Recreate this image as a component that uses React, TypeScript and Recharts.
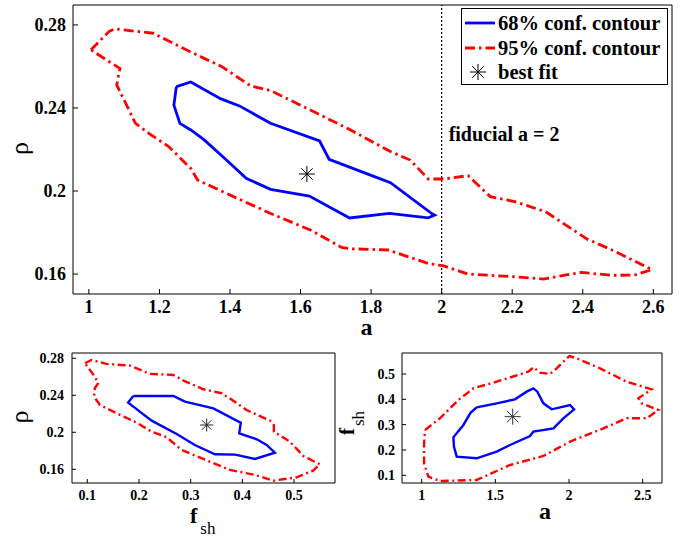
import React from 'react';
import { ComposedChart, Line, Scatter, XAxis, YAxis, ReferenceLine, Legend } from 'recharts';

const FONT = '"Liberation Serif", "Times New Roman", serif';
const BLUE = '#0000ff';
const RED = '#ff0000';

type Pt = [number, number];

// ---------- Main panel: a vs rho ----------
const mainXTicks = [1, 1.2, 1.4, 1.6, 1.8, 2, 2.2, 2.4, 2.6];
const mainYTicks = [0.16, 0.2, 0.24, 0.28];
const mainContour68: Pt[] = [
  [1.248, 0.2503], [1.289, 0.2525], [1.373, 0.2445], [1.427, 0.241], [1.515, 0.2326],
  [1.654, 0.2241], [1.681, 0.2153], [1.83, 0.2056], [1.855, 0.204], [1.974, 0.1889],
  [1.98, 0.1884], [1.962, 0.1871], [1.852, 0.1892], [1.739, 0.187], [1.625, 0.1976],
  [1.515, 0.2008], [1.446, 0.2061], [1.39, 0.2149], [1.327, 0.2246], [1.289, 0.2294],
  [1.258, 0.2326], [1.241, 0.2414], [1.248, 0.2503],
];
const mainContour95: Pt[] = [
  [1.006, 0.268], [1.057, 0.2768], [1.073, 0.2781], [1.182, 0.276], [1.276, 0.268],
  [1.377, 0.2599], [1.459, 0.2506], [1.515, 0.2484], [1.628, 0.239], [1.742, 0.2294],
  [1.855, 0.219], [1.911, 0.2149], [1.962, 0.2058], [2.006, 0.2058], [2.075, 0.2074],
  [2.138, 0.1973], [2.207, 0.1949], [2.295, 0.19], [2.414, 0.1767], [2.483, 0.1716],
  [2.59, 0.1627], [2.596, 0.1622], [2.546, 0.1595], [2.483, 0.1594], [2.395, 0.1608],
  [2.288, 0.1576], [2.207, 0.1587], [2.075, 0.16], [2.006, 0.1639], [1.962, 0.1651],
  [1.848, 0.1716], [1.742, 0.1722], [1.716, 0.1729], [1.628, 0.1812], [1.515, 0.1892],
  [1.427, 0.196], [1.308, 0.2053], [1.289, 0.2109], [1.226, 0.2214], [1.17, 0.2278],
  [1.132, 0.2326], [1.079, 0.2511], [1.088, 0.2591], [1.05, 0.2631], [1.006, 0.268],
];
const mainBestFit: Pt[] = [[1.618, 0.2082]];
const fiducialA = 2;

// ---------- Bottom-left panel: f_sh vs rho ----------
const blXTicks = [0.1, 0.2, 0.3, 0.4, 0.5];
const blYTicks = [0.16, 0.2, 0.24, 0.28];
const blContour68: Pt[] = [
  [0.189, 0.2393], [0.2665, 0.2393], [0.289, 0.2331], [0.344, 0.2259], [0.389, 0.2126],
  [0.397, 0.2104], [0.394, 0.1989], [0.428, 0.1924], [0.447, 0.1863], [0.463, 0.178],
  [0.4245, 0.1712], [0.386, 0.1759], [0.347, 0.1762], [0.308, 0.1863], [0.273, 0.1982],
  [0.2245, 0.2126], [0.179, 0.2321], [0.189, 0.2393],
];
const blContour95: Pt[] = [
  [0.0955, 0.2746], [0.108, 0.2782], [0.137, 0.2739], [0.183, 0.2721], [0.221, 0.2631],
  [0.2665, 0.262], [0.286, 0.2559], [0.3245, 0.2465], [0.36, 0.2422], [0.3825, 0.2342],
  [0.408, 0.2241], [0.4535, 0.2126], [0.461, 0.2079], [0.461, 0.2007], [0.492, 0.1899],
  [0.518, 0.1744], [0.55, 0.1654], [0.537, 0.1586], [0.505, 0.1513], [0.46, 0.1477],
  [0.4245, 0.1539], [0.376, 0.1593], [0.337, 0.1683], [0.2825, 0.1809], [0.2535, 0.1946],
  [0.2245, 0.2007], [0.195, 0.2105], [0.157, 0.2205], [0.1245, 0.2295], [0.113, 0.2386],
  [0.1145, 0.2476], [0.121, 0.253], [0.1145, 0.2602], [0.0955, 0.2746],
];
const blBestFit: Pt[] = [[0.331, 0.2079]];

// ---------- Bottom-right panel: a vs f_sh ----------
const brXTicks = [1, 1.5, 2, 2.5];
const brYTicks = [0.1, 0.2, 0.3, 0.4, 0.5];
const brContour68: Pt[] = [
  [1.373, 0.3684], [1.509, 0.3842], [1.633, 0.4], [1.7125, 0.4303], [1.7575, 0.4434],
  [1.785, 0.4303], [1.826, 0.3842], [1.882, 0.3605], [2.007, 0.3776], [2.034, 0.3605],
  [1.9615, 0.325], [1.894, 0.2855], [1.758, 0.2724], [1.735, 0.2553], [1.5995, 0.2197],
  [1.509, 0.1934], [1.373, 0.1671], [1.2375, 0.1737], [1.219, 0.2132], [1.215, 0.25],
  [1.283, 0.2987], [1.3325, 0.3474], [1.373, 0.3684],
];
const brContour95: Pt[] = [
  [1.023, 0.2789], [1.124, 0.325], [1.249, 0.3974], [1.351, 0.4434], [1.509, 0.4697],
  [1.724, 0.5092], [1.758, 0.5263], [1.803, 0.5053], [1.871, 0.5], [1.916, 0.5224],
  [2.002, 0.5711], [2.052, 0.5618], [2.2105, 0.5224], [2.391, 0.4697], [2.5385, 0.4434],
  [2.561, 0.4395], [2.4705, 0.404], [2.493, 0.3842], [2.606, 0.3579], [2.527, 0.325],
  [2.391, 0.325], [2.233, 0.2855], [2.007, 0.2329], [1.826, 0.1763], [1.5995, 0.1408],
  [1.373, 0.0816], [1.124, 0.0776], [1.045, 0.0947], [1.016, 0.1474], [1.016, 0.2263],
  [1.023, 0.2789],
];
const brBestFit: Pt[] = [[1.6175, 0.3316]];

const legendLabels = ['68% conf. contour', '95% conf. contour', 'best fit'];

const toXY = (pts: Pt[]) => pts.map(([x, y]) => ({ x, y }));

function asterisk(r: number, color: string) {
  return (props: any) => {
    const { cx, cy } = props;
    const d = r * 0.72;
    return (
      <g stroke={color} strokeWidth={1}>
        <line x1={cx - r} y1={cy} x2={cx + r} y2={cy} />
        <line x1={cx} y1={cy - r} x2={cx} y2={cy + r} />
        <line x1={cx - d} y1={cy - d} x2={cx + d} y2={cy + d} />
        <line x1={cx - d} y1={cy + d} x2={cx + d} y2={cy - d} />
      </g>
    );
  };
}

interface PanelProps {
  left: number; top: number; width: number; height: number;
  margin: { top: number; right: number; bottom: number; left: number };
  yAxisWidth: number; xAxisHeight: number;
  xDomain: [number, number]; yDomain: [number, number];
  xTicks: number[]; yTicks: number[];
  tickFont: number; tickLen: number; xTickMargin: number; yTickMargin: number;
  c68: Pt[]; c95: Pt[]; best: Pt[];
  lineW: number; dash: string; starR: number; starColor: string;
  xLabel: (p: any) => any; yLabel: (p: any) => any;
  children?: any;
}

function Panel(p: PanelProps) {
  const tickStyle = { fill: '#000', fontSize: p.tickFont, fontWeight: 'bold', fontFamily: FONT };
  return (
    <div style={{ position: 'absolute', left: p.left, top: p.top, width: p.width, height: p.height }}>
      <ComposedChart width={p.width} height={p.height} margin={p.margin}>
        <XAxis
          xAxisId="b" type="number" dataKey="x" orientation="bottom"
          domain={p.xDomain} allowDataOverflow ticks={p.xTicks} interval={0}
          height={p.xAxisHeight} tickSize={-p.tickLen} tickMargin={p.xTickMargin}
          stroke="#000" tick={tickStyle} tickFormatter={(v: number) => String(v)}
          label={p.xLabel}
        />
        <XAxis
          xAxisId="t" type="number" dataKey="x" orientation="top"
          domain={p.xDomain} allowDataOverflow ticks={p.xTicks} interval={0}
          height={1} tickSize={-p.tickLen} stroke="#000" tick={false}
        />
        <YAxis
          yAxisId="l" type="number" orientation="left"
          domain={p.yDomain} allowDataOverflow ticks={p.yTicks} interval={0}
          width={p.yAxisWidth} tickSize={-p.tickLen} tickMargin={p.yTickMargin}
          stroke="#000" tick={tickStyle} tickFormatter={(v: number) => String(v)}
          label={p.yLabel}
        />
        <YAxis
          yAxisId="r" type="number" orientation="right"
          domain={p.yDomain} allowDataOverflow ticks={p.yTicks} interval={0}
          width={1} tickSize={-p.tickLen} stroke="#000" tick={false}
        />
        {p.children}
        <Line
          xAxisId="b" yAxisId="l" data={toXY(p.c95)} dataKey="y" type="linear"
          stroke={RED} strokeWidth={p.lineW} strokeDasharray={p.dash}
          dot={false} activeDot={false} isAnimationActive={false}
        />
        <Line
          xAxisId="b" yAxisId="l" data={toXY(p.c68)} dataKey="y" type="linear"
          stroke={BLUE} strokeWidth={p.lineW}
          dot={false} activeDot={false} isAnimationActive={false}
        />
        <Scatter
          xAxisId="b" yAxisId="l" data={toXY(p.best)} dataKey="y"
          shape={asterisk(p.starR, p.starColor)} isAnimationActive={false}
        />
      </ComposedChart>
    </div>
  );
}

const vb = (props: any) => props?.viewBox ?? { x: 0, y: 0, width: 0, height: 0 };

const mainXLabel = (props: any) => {
  const v = vb(props);
  return (
    <text x={v.x + v.width / 2 - 6} y={v.y + 41} textAnchor="middle"
      fontFamily={FONT} fontWeight="bold" fontSize={24} fill="#000">a</text>
  );
};
const rhoLabel = (props: any) => {
  const v = vb(props);
  const x = v.x + 28;
  const y = v.y + v.height / 2 - 1;
  return (
    <text x={x} y={y} transform={`rotate(-90, ${x}, ${y})`} textAnchor="middle"
      fontFamily={FONT} fontSize={26} fill="#000">ρ</text>
  );
};
const blXLabel = (props: any) => {
  const v = vb(props);
  return (
    <text x={v.x + 118} y={v.y + 40} fontFamily={FONT} fill="#000">
      <tspan fontWeight="bold" fontSize={22}>f</tspan>
      <tspan fontSize={17} dx={3} dy={11}>sh</tspan>
    </text>
  );
};
const brXLabel = (props: any) => {
  const v = vb(props);
  return (
    <text x={v.x + 143} y={v.y + 36} textAnchor="middle"
      fontFamily={FONT} fontWeight="bold" fontSize={24} fill="#000">a</text>
  );
};
const brYLabel = (props: any) => {
  const v = vb(props);
  const x = v.x + 24;
  const y = v.y + v.height / 2 + 5;
  return (
    <text x={x} y={y} transform={`rotate(-90, ${x}, ${y})`} textAnchor="middle"
      fontFamily={FONT} fill="#000">
      <tspan fontWeight="bold" fontSize={21}>f</tspan>
      <tspan fontSize={17} dx={2} dy={10}>sh</tspan>
    </text>
  );
};

const fiducialLabel = (props: any) => {
  const v = vb(props);
  return (
    <text x={v.x + 7} y={v.y + 136} fontFamily={FONT} fontWeight="bold" fontSize={20} fill="#000">
      {`fiducial a = ${fiducialA}`}
    </text>
  );
};

const legendContent = () => (
  <svg width={207} height={77} style={{ display: 'block' }}>
    <rect x={0.5} y={0.5} width={206} height={76} fill="#fff" stroke="#000" strokeWidth={1} />
    <line x1={4} y1={15} x2={34} y2={15} stroke={BLUE} strokeWidth={2.8} />
    <text x={37} y={22} fontFamily={FONT} fontWeight="bold" fontSize={20.5} fill="#000">{legendLabels[0]}</text>
    <line x1={4} y1={40} x2={34} y2={40} stroke={RED} strokeWidth={2.8} strokeDasharray="10 4 2.5 4" />
    <text x={37} y={47} fontFamily={FONT} fontWeight="bold" fontSize={20.5} fill="#000">{legendLabels[1]}</text>
    {asterisk(8, '#000')({ cx: 17, cy: 64 })}
    <text x={37} y={71} fontFamily={FONT} fontWeight="bold" fontSize={20.5} fill="#000">{legendLabels[2]}</text>
  </svg>
);

export default function App() {
  return (
    <div style={{ position: 'absolute', left: 0, top: 0, width: 685, height: 538, background: '#fff' }}>
      <Panel
        left={0} top={0} width={685} height={345}
        margin={{ top: 4, right: 12, bottom: 0, left: 0 }}
        yAxisWidth={73} xAxisHeight={51}
        xDomain={[0.955, 2.653]} yDomain={[0.1504, 0.2896]}
        xTicks={mainXTicks} yTicks={mainYTicks}
        tickFont={18} tickLen={5} xTickMargin={11} yTickMargin={12}
        c68={mainContour68} c95={mainContour95} best={mainBestFit}
        lineW={2.8} dash="10 4 2.5 4" starR={8} starColor="#000"
        xLabel={mainXLabel} yLabel={rhoLabel}
      >
        <ReferenceLine
          xAxisId="b" yAxisId="l" x={fiducialA} stroke="#000" strokeWidth={1.2}
          strokeDasharray="2 2" label={fiducialLabel}
        />
        <Legend
          layout="vertical" align="center" verticalAlign="middle"
          wrapperStyle={{ position: 'absolute', left: 461, top: 8, width: 207, height: 77 }}
          content={legendContent}
        />
      </Panel>
      <Panel
        left={0} top={330} width={340} height={208}
        margin={{ top: 22, right: 4, bottom: 0, left: 0 }}
        yAxisWidth={72} xAxisHeight={55}
        xDomain={[0.0704, 0.5793]} yDomain={[0.1452, 0.2857]}
        xTicks={blXTicks} yTicks={blYTicks}
        tickFont={14} tickLen={4} xTickMargin={11} yTickMargin={12}
        c68={blContour68} c95={blContour95} best={blBestFit}
        lineW={2.4} dash="8 3.5 2 3.5" starR={6.5} starColor="#222"
        xLabel={blXLabel} yLabel={rhoLabel}
      />
      <Panel
        left={330} top={330} width={355} height={208}
        margin={{ top: 22, right: 22, bottom: 0, left: 0 }}
        yAxisWidth={72} xAxisHeight={55}
        xDomain={[0.8663, 2.631]} yDomain={[0.0696, 0.5829]}
        xTicks={brXTicks} yTicks={brYTicks}
        tickFont={14} tickLen={4} xTickMargin={11} yTickMargin={11}
        c68={brContour68} c95={brContour95} best={brBestFit}
        lineW={2.4} dash="8 3.5 2 3.5" starR={8} starColor="#333"
        xLabel={brXLabel} yLabel={brYLabel}
      />
    </div>
  );
}
